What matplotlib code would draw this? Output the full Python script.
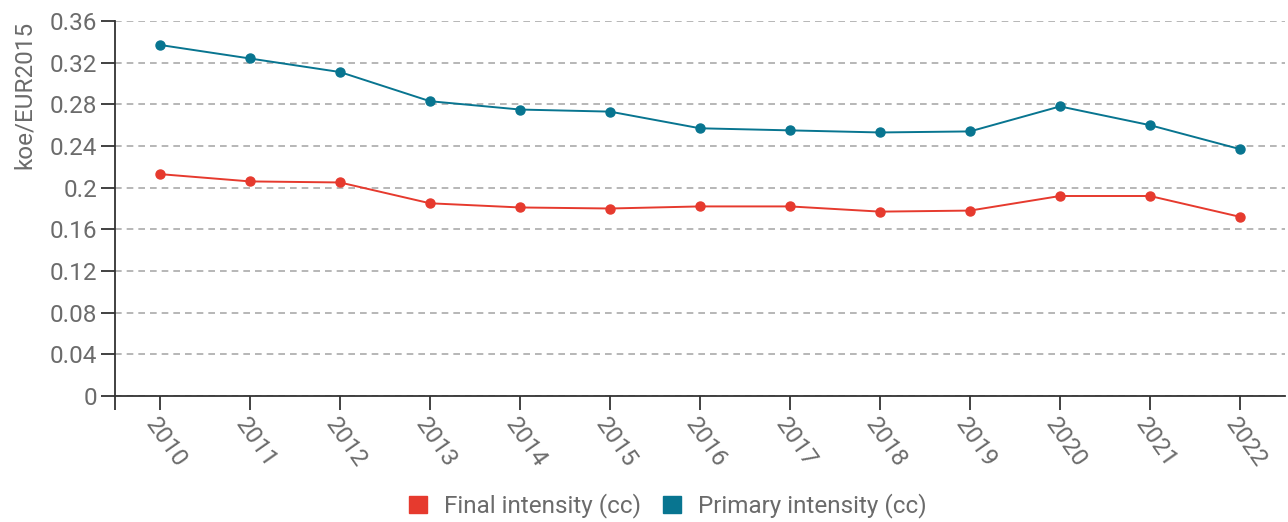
import matplotlib.pyplot as plt
import numpy as np

years = ["2010", "2011", "2012", "2013", "2014", "2015", "2016",
         "2017", "2018", "2019", "2020", "2021", "2022"]
final_intensity = [0.213, 0.206, 0.205, 0.185, 0.181, 0.180, 0.182,
                   0.182, 0.177, 0.178, 0.192, 0.192, 0.172]
primary_intensity = [0.337, 0.324, 0.311, 0.283, 0.275, 0.273, 0.257,
                     0.255, 0.253, 0.254, 0.278, 0.260, 0.237]
y_ticks = [0, 0.04, 0.08, 0.12, 0.16, 0.2, 0.24, 0.28, 0.32, 0.36]
y_tick_labels = ["0", "0.04", "0.08", "0.12", "0.16", "0.2",
                 "0.24", "0.28", "0.32", "0.36"]

RED = "#e63a2e"
TEAL = "#087590"
GREY_TEXT = "#6b6b6b"
AXIS = "#333333"
FS = 17.5

plt.rcParams["font.family"] = ["Roboto", "DejaVu Sans"]

fig = plt.figure(figsize=(12.88, 5.22), dpi=100)
ax = fig.add_axes([115 / 1288, 126 / 522, 1170 / 1288, 375 / 522])

x = np.arange(len(years))
ax.plot(x, final_intensity, color=RED, lw=1.4, marker="o", ms=6.5,
        label="Final intensity (cc)", zorder=3)
ax.plot(x, primary_intensity, color=TEAL, lw=1.4, marker="o", ms=6.5,
        label="Primary intensity (cc)", zorder=3)

ax.set_xlim(-0.5, len(years) - 0.5)
ax.set_ylim(0, 0.36)
ax.set_yticks(y_ticks)
ax.set_yticklabels(y_tick_labels)
ax.set_xticks(x)
ax.set_xticklabels(years, rotation=-55, ha="left", va="top",
                   rotation_mode="anchor")
# extra tick where the x axis meets the y axis
ax.set_xticks([-0.5], minor=True)

ax.grid(axis="y", color="#aaaaaa", ls=(0, (4, 3)), lw=1.2)
ax.set_axisbelow(True)
for side in ("top", "right"):
    ax.spines[side].set_visible(False)
for side in ("left", "bottom"):
    ax.spines[side].set_color(AXIS)
    ax.spines[side].set_linewidth(1.3)

ax.tick_params(axis="both", which="both", colors=AXIS, length=10, width=1.3,
               labelcolor=GREY_TEXT, labelsize=FS)
ax.tick_params(axis="x", pad=3)
ax.tick_params(axis="y", pad=3)

ax.set_ylabel("koe/EUR2015", loc="top", color=GREY_TEXT, fontsize=FS,
              labelpad=10)

handles = [plt.Rectangle((0, 0), 1, 1, color=RED),
           plt.Rectangle((0, 0), 1, 1, color=TEAL)]
fig.legend(handles, ["Final intensity (cc)", "Primary intensity (cc)"],
           loc="center", bbox_to_anchor=(668 / 1288, 16 / 522), ncol=2,
           frameon=False, fontsize=FS, labelcolor=GREY_TEXT,
           handlelength=0.75, handleheight=0.75, handletextpad=0.7,
           columnspacing=0.9)

fig.savefig("out.png", dpi=100)
